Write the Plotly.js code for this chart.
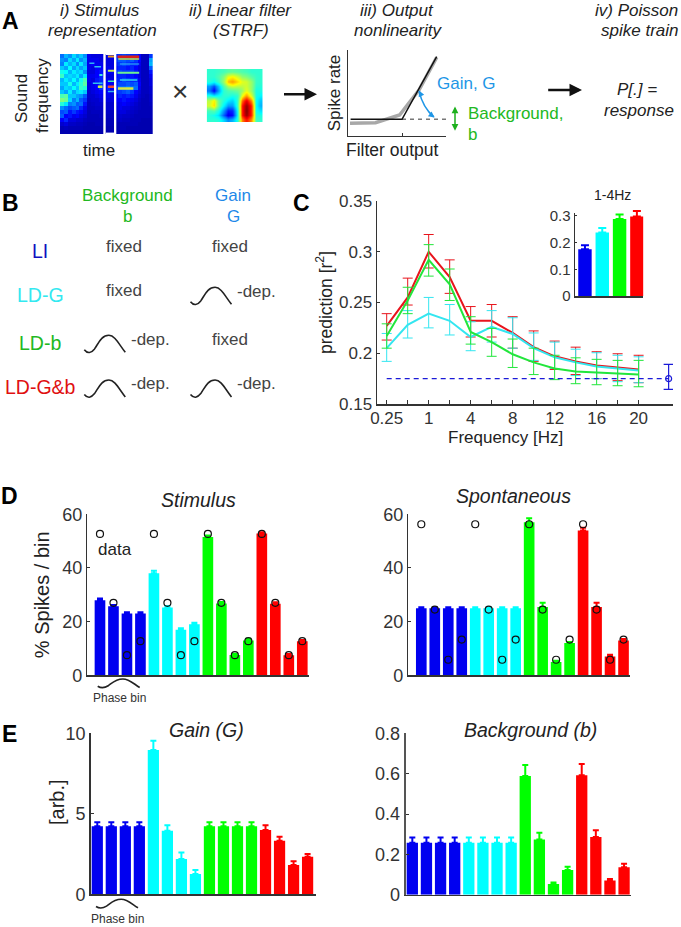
<!DOCTYPE html>
<html><head><meta charset="utf-8">
<script src="https://cdn.plot.ly/plotly-3.0.1.min.js"></script>
<style>html,body{margin:0;padding:0;background:#fff}#c{width:681px;height:927px}</style></head>
<body><div id="c"></div>
<script>
// ---------- data ----------
const modelColors = ['#0000f0','#00ffff','#00ff00','#ff0000'];
const freqTickLabels = ['0.25','1','4','8','12','16','20'];
const freqLabelPos = [0,2,4,6,8,10,12];
const freqMinorPos = [1,3,5,7,9,11];
const freqPos = [0,1,2,3,4,5,6,7,8,9,10,11,12];
const redLine  = [.227,.255,.300,.275,.232,.232,.220,.206,.197,.192,.188,.186,.184];
const redTop   = [.239,.274,.317,.292,.246,.248,.236,.222,.212,.206,.2015,.1995,.198];
const redBot   = [.213,.2475,.284,.259,.216,.216,.205,.192,.184,.179,.175,.173,.171];
const greenLine= [.217,.252,.292,.268,.221,.211,.199,.191,.185,.182,.181,.180,.179];
const greenTop = [.229,.265,.307,.283,.236,.2245,.214,.205,.198,.1955,.194,.193,.193];
const greenBot = [.205,.239,.276,.252,.209,.197,.186,.179,.174,.170,.169,.168,.167];
const cyanLine = [.205,.228,.239,.232,.216,.226,.219,.205,.196,.191,.187,.185,.183];
const cyanTop  = [.2195,.242,.255,.248,.231,.242,.235,.220,.211,.204,.2005,.198,.1965];
const cyanBot  = [.192,.215,.225,.218,.2025,.211,.205,.193,.185,.178,.175,.172,.171];
const liPos = 13.43, liValue = .175, liTop = .189, liBot = .1645;
const insetValues = [.175,.238,.288,.298];
const insetTops   = [.190,.255,.305,.318];

const stimulusBars = [28,25.7,23,23, 38,25.3,17,19, 51.5,26.8,7.6,13, 52.8,26.7,7.5,12.7];
const stimulusErr  = [.6,.5,.5,.5, 1,.5,.5,.6, .6,.5,.4,.6, .5,.5,.4,.5];
const stimulusData = [52.7,27,7.5,12.7, 52.7,27,7.5,12.7, 52.7,27,7.5,12.7, 52.7,27,7.5,12.7];
const spontBars = [25,25,25,25, 25,25,25,25, 57,25.5,5,12, 54,25.5,7,13];
const spontErr  = [.4,.4,.4,.4, .4,.4,.4,.4, 1.5,1.5,.4,.4, 1,1.5,.7,.5];
const spontData = [56.3,24.5,5.8,13.3, 56.3,24.5,5.8,13.3, 56.3,24.5,5.8,13.3, 56.3,24.5,5.8,13.3];
const gainBars = [4.22,4.22,4.22,4.22, 8.96,3.95,2.2,1.26, 4.22,4.22,4.22,4.22, 4.0,3.33,1.82,2.34];
const gainErr  = [.25,.25,.25,.25, .58,.34,.39,.25, .25,.25,.25,.25, .29,.25,.23,.16];
const bgBars = [.257,.257,.257,.257, .257,.257,.257,.257, .588,.274,.053,.122, .592,.286,.071,.136];
const bgErr  = [.027,.027,.027,.027, .027,.027,.027,.027, .055,.033,.008,.017, .056,.033,.007,.018];

const nlBlackX = [-51.4,0,34.7], nlBlackY = [16.7,16.7,79.3];
const nlGreyX = [-52,-26.5,-2.4,17,34.7], nlGreyY = [12.7,13.3,21,46,78.7];
const nlDashX = [0,48], nlDashY = [16.7,16.7];

const spectrogram = [
[.26,.34,.30,.38,.32,.36,.30,.12,.10,.10,.10,.08,.12,.12,.18,.20,.22,.20,.18,.18,.14,.06,.06,.20],
[.30,.28,.38,.32,.40,.30,.34,.12,.12,.12,.10,.10,.10,.10,.20,.24,.24,.22,.24,.20,.14,.06,.06,.32],
[.28,.40,.34,.38,.30,.40,.32,.12,.14,.12,.12,.10,.10,.10,.18,.20,.22,.20,.18,.18,.12,.06,.06,.34],
[.36,.32,.42,.32,.38,.32,.36,.12,.10,.14,.14,.10,.12,.10,.16,.18,.18,.16,.18,.14,.10,.06,.06,.24],
[.44,.42,.34,.40,.36,.38,.30,.10,.10,.14,.16,.10,.14,.12,.20,.22,.20,.20,.20,.16,.10,.06,.06,.16],
[.48,.36,.38,.36,.40,.32,.40,.12,.12,.14,.18,.10,.10,.10,.16,.18,.18,.16,.16,.14,.10,.06,.06,.12],
[.34,.40,.36,.42,.34,.44,.50,.12,.10,.16,.18,.12,.12,.10,.18,.18,.22,.20,.18,.18,.12,.06,.06,.10],
[.36,.36,.44,.34,.40,.46,.52,.10,.12,.14,.20,.12,.14,.12,.18,.22,.22,.24,.22,.24,.14,.06,.06,.10],
[.32,.38,.36,.42,.36,.48,.46,.10,.12,.14,.20,.12,.18,.12,.20,.26,.26,.28,.26,.26,.12,.06,.06,.08],
[.36,.32,.40,.32,.38,.40,.36,.08,.10,.12,.14,.10,.14,.10,.18,.20,.22,.24,.20,.14,.10,.06,.06,.08],
[.50,.52,.36,.36,.32,.30,.24,.08,.08,.10,.12,.10,.12,.10,.14,.18,.16,.18,.16,.12,.08,.06,.05,.07],
[.56,.54,.38,.28,.34,.24,.20,.07,.08,.08,.10,.10,.10,.10,.14,.14,.16,.14,.12,.10,.07,.05,.05,.07],
[.46,.40,.28,.30,.24,.26,.16,.06,.07,.08,.08,.08,.08,.08,.12,.12,.14,.12,.10,.08,.06,.05,.05,.06],
[.30,.26,.22,.24,.26,.18,.12,.06,.06,.07,.07,.08,.08,.08,.10,.12,.10,.10,.08,.07,.06,.05,.05,.05],
[.22,.24,.16,.20,.16,.14,.10,.05,.06,.06,.06,.07,.07,.06,.08,.10,.10,.08,.07,.06,.05,.05,.05,.05],
[.24,.14,.16,.12,.14,.10,.08,.05,.05,.05,.06,.06,.06,.06,.07,.08,.07,.07,.06,.05,.05,.05,.05,.05],
[.14,.18,.10,.10,.08,.08,.06,.05,.05,.05,.05,.05,.05,.05,.06,.07,.06,.06,.05,.05,.05,.04,.04,.04],
[.08,.10,.07,.07,.06,.06,.05,.04,.04,.05,.05,.05,.05,.05,.05,.05,.05,.05,.05,.05,.04,.04,.04,.04],
[.05,.06,.05,.05,.05,.05,.04,.04,.04,.04,.04,.04,.04,.04,.04,.05,.05,.04,.04,.04,.04,.04,.04,.04],
[.04,.04,.04,.04,.04,.04,.04,.04,.04,.04,.04,.04,.04,.04,.04,.04,.04,.04,.04,.04,.04,.04,.04,.04]];
// bright harmonics on the spectrogram: column span, row, colour, width
const harmonicCols = [[14.4,20],[14.6,20],[15,20],[14.4,20],[15,19.5],[14.5,18.5],[11.9,13.7],[11.9,13.7],[11.9,13.7],[11.9,13.7],[11.9,13.7],[7.1,8.4],[8.4,10.1],[9.7,10.5],[8,10.5],[9.3,10.5]];
const harmonicRows = [.17,.75,2,4.2,6,8.1,0.1,3.7,6.3,7.7,8.9,1.8,2.7,4.75,6.8,7.7];
const harmonicColors = ['#d8201a','#c8e040','#30c0f0','#70f090','#30d0f0','#d8e840','#f0a020','#c8f050','#40f0b0','#f05030','#30b0f0','#30b0f0','#30c0f0','#40e0e0','#30c0f0','#d0f040'];
const harmonicWidths = [2.5,1.5,1,2,1.5,2.5,2,2,1.5,2.5,1.5,1.5,1.5,2,1.5,2.5];
const strf = [
[.42,.42,.43,.44,.46,.47,.46,.45,.44,.42,.42,.42],
[.42,.42,.45,.50,.60,.63,.58,.52,.50,.46,.43,.42],
[.41,.38,.43,.52,.68,.72,.66,.60,.58,.52,.43,.42],
[.28,.20,.32,.45,.54,.58,.56,.56,.58,.52,.42,.41],
[.24,.12,.28,.42,.45,.46,.48,.52,.60,.52,.40,.40],
[.40,.36,.38,.42,.42,.40,.42,.60,.72,.58,.40,.37],
[.56,.64,.48,.41,.36,.33,.42,.76,.90,.74,.39,.32],
[.58,.66,.48,.37,.28,.28,.42,.84,.98,.84,.39,.30],
[.44,.46,.40,.28,.15,.16,.38,.84,1.0,.84,.40,.35],
[.41,.39,.35,.22,.10,.13,.37,.84,.98,.84,.42,.40],
[.42,.42,.41,.34,.26,.30,.40,.74,.86,.74,.44,.42]];
const jet = [[0,'rgb(0,0,143)'],[.125,'rgb(0,0,255)'],[.375,'rgb(0,255,255)'],[.625,'rgb(255,255,0)'],[.875,'rgb(255,0,0)'],[1,'rgb(128,0,0)']];

// ---------- helpers ----------
const W=681,H=927, FONT='"Liberation Sans", Arial, sans-serif';
const fx=p=>p/W, fy=p=>1-p/H;
const layout={width:W,height:H,margin:{l:0,r:0,t:0,b:0},paper_bgcolor:'#fff',plot_bgcolor:'rgba(0,0,0,0)',
  showlegend:false,barmode:'overlay',font:{family:FONT,color:'#333'},annotations:[],shapes:[]};
const traces=[];
let nAxes=0;
function axes(l,r,t,b,xo,yo){
  nAxes++; const s=nAxes===1?'':nAxes;
  const base={showgrid:false,zeroline:false,showline:true,linecolor:'#333',linewidth:1.5,ticks:'',showticklabels:false,fixedrange:true};
  layout['xaxis'+s]=Object.assign({},base,{domain:[l/W,r/W],anchor:'y'+s},xo);
  layout['yaxis'+s]=Object.assign({},base,{domain:[1-b/H,1-t/H],anchor:'x'+s},yo);
  return {xaxis:'x'+s,yaxis:'y'+s};
}
function T(x,y,text,o={}){
  layout.annotations.push({xref:'paper',yref:'paper',x:fx(x),y:fy(y),text,showarrow:false,
    xanchor:o.anchor||'center',yanchor:'middle',textangle:o.rot||0,
    font:{family:FONT,size:o.size||17,color:o.color||'#222'}});
}
function arrow(x0,y0,x1,y1,color,width,side,size){
  layout.annotations.push({xref:'paper',yref:'paper',axref:'pixel',ayref:'pixel',x:fx(x1),y:fy(y1),ax:x0-x1,ay:y0-y1,
    text:'',showarrow:true,arrowhead:2,arrowside:side||'end',arrowsize:size||1,arrowwidth:width,arrowcolor:color});
}
function bump(x0,top,w,h,c){
  const X=u=>fx(x0+u*w), Y=v=>fy(top+v*h);
  const p=`M${X(0)},${Y(.85)} C${X(.08)},${Y(1.1)} ${X(.17)},${Y(1.05)} ${X(.25)},${Y(.8)} C${X(.35)},${Y(.45)} ${X(.42)},${Y(0)} ${X(.6)},${Y(0)} C${X(.75)},${Y(0)} ${X(.85)},${Y(.55)} ${X(1)},${Y(1)}`;
  layout.shapes.push({type:'path',xref:'paper',yref:'paper',path:p,line:{color:c||'#222',width:1.6}});
}
function rect(x0,y0,x1,y1){layout.shapes.push({type:'rect',xref:'paper',yref:'paper',x0:fx(x0),x1:fx(x1),y0:fy(y0),y1:fy(y1),fillcolor:'#fff',line:{width:0},layer:'above'});}

// ---------- panel A ----------
let a=axes(60,152.7,54,134,{visible:false,range:[-.5,23.5]},{visible:false,range:[19.5,-.5]});
traces.push(Object.assign({type:'heatmap',z:spectrogram,colorscale:jet,zmin:0,zmax:1.12,showscale:false,zsmooth:false},a));
harmonicRows.forEach((r,i)=>traces.push(Object.assign({type:'scatter',mode:'lines',x:harmonicCols[i],y:[r,r],line:{color:harmonicColors[i],width:harmonicWidths[i]}},a)));
rect(103.3,54,105.7,134); rect(114,54,116.3,134); rect(105.7,54,114,55); rect(105.7,132.6,114,134);
a=axes(206.7,262.7,69,122.3,{visible:false,range:[-.5,11.5]},{visible:false,range:[10.5,-.5]});
traces.push(Object.assign({type:'heatmap',z:strf,colorscale:jet,zmin:0,zmax:1,showscale:false,zsmooth:'best'},a));
a=axes(348,446,50,136,{range:[-54,44],tickvals:[0],ticks:'inside',ticklen:3,tickcolor:'#333',linewidth:1.2},
   {range:[0,86],linewidth:1.2,title:{text:'Spike rate',font:{size:17,color:'#222'},standoff:1}});
traces.push(Object.assign({type:'scatter',mode:'lines',x:nlGreyX,y:nlGreyY,line:{color:'#a8a8a8',width:3.5}},a));
traces.push(Object.assign({type:'scatter',mode:'lines',x:nlDashX,y:nlDashY,line:{color:'#777',width:1.5,dash:'4px,4px'},cliponaxis:false},a));
traces.push(Object.assign({type:'scatter',mode:'lines',x:nlBlackX,y:nlBlackY,line:{color:'#111',width:1.5}},a));
T(392,150,'Filter output',{size:17.5});

T(10,21,'<b>A</b>',{size:23,color:'#000'});
T(100,10,'<i>i) Stimulus</i>',{size:17}); T(102.6,30.7,'<i>representation</i>',{size:17});
T(241,10,'<i>ii) Linear filter</i>',{size:17}); T(241,30.7,'<i>(STRF)</i>',{size:17});
T(396.5,10,'<i>iii) Output</i>',{size:17}); T(398,30.7,'<i>nonlinearity</i>',{size:17});
T(636,10,'<i>iv) Poisson</i>',{size:17}); T(639,30.7,'<i>spike train</i>',{size:17});
T(22,99,'Sound',{rot:-90,size:17}); T(43,96,'frequency',{rot:-90,size:17});
T(99,150.7,'time',{size:17});
T(179.5,91.5,'×',{size:28,color:'#333'});
T(434.5,83.3,'Gain, G',{anchor:'left',color:'#1e96e6',size:17});
T(466.4,114,'Background,',{anchor:'left',color:'#22b822',size:17});
T(466.4,135,'b',{anchor:'left',color:'#22b822',size:17});
T(636.7,89,'<i>P[.] =</i>',{size:17}); T(639,110,'<i>response</i>',{size:17});
arrow(282.5,94.3,317,94.3,'#111',2.5); arrow(546.7,90,582,90,'#111',2.5);
arrow(455,105,455,130.7,'#1db01d',1.5,'end+start',.9);
layout.shapes.push({type:'path',xref:'paper',yref:'paper',path:`M${fx(419)},${fy(91)} Q${fx(423)},${fy(108)} ${fx(434)},${fy(117)}`,line:{color:'#1e96e6',width:1.5}});
arrow(421,95,419,90.5,'#1e96e6',1.5,'end',.8); arrow(430,114,434.5,117.5,'#1e96e6',1.5,'end',.8);

// ---------- panel B ----------
T(10,203,'<b>B</b>',{size:23,color:'#000'});
const greenT='#22b822', blueT='#1e88e8';
T(127.7,196,'Background',{color:greenT,size:17}); T(127.7,216.7,'b',{color:greenT,size:17});
T(233,196,'Gain',{color:blueT,size:17}); T(233,216.7,'G',{color:blueT,size:17});
T(40.3,250.7,'LI',{color:'#1010c0',size:19.5});
T(40.3,295,'LD-G',{color:'#33e8f0',size:19.5});
T(40.3,343.3,'LD-b',{color:greenT,size:19.5});
T(40,387,'LD-G&amp;b',{color:'#e01010',size:19.5});
const gy='#444';
T(124,246.7,'fixed',{color:gy}); T(230,246.7,'fixed',{color:gy});
T(124,291,'fixed',{color:gy}); bump(190.5,287.3,41,17); T(235,291.7,'-dep.',{anchor:'left',color:gy});
bump(84.3,335.3,41,17); T(128.7,339.3,'-dep.',{anchor:'left',color:gy}); T(230,339.3,'fixed',{color:gy});
bump(84.3,380,41,17); T(128.7,384,'-dep.',{anchor:'left',color:gy});
bump(190.5,380,41,17); T(235,384,'-dep.',{anchor:'left',color:gy});

// ---------- panel C ----------
T(301.7,203,'<b>C</b>',{size:23,color:'#000'});
a=axes(377,673,201,404,{range:[-.462,13.638],tickmode:'array',tickvals:freqLabelPos,ticktext:freqTickLabels,ticks:'inside',ticklen:4,tickcolor:'#333',showticklabels:true,tickfont:{size:17,color:'#333'},ticklabelstandoff:-2,
     minor:{tickmode:'array',tickvals:freqMinorPos,ticks:'inside',ticklen:4,tickcolor:'#333',showgrid:false}},
   {range:[.15,.35],tickvals:[.15,.2,.25,.3,.35],ticktext:['0.15','0.2','0.25','0.3','0.35'],ticks:'inside',ticklen:3,tickcolor:'#333',showticklabels:true,tickfont:{size:17,color:'#333'},
    title:{text:'prediction [r<sup>2</sup>]',font:{size:17.5,color:'#222'},standoff:2}});
function tuning(val,top,bot,col){
  traces.push(Object.assign({type:'scatter',mode:'lines',x:freqPos,y:val,line:{color:col,width:2},cliponaxis:false,
    error_y:{type:'data',symmetric:false,array:top.map((v,i)=>v-val[i]),arrayminus:bot.map((v,i)=>val[i]-v),color:col,thickness:1,width:5}},a));
}
tuning(redLine,redTop,redBot,'#e8141c');
tuning(cyanLine,cyanTop,cyanBot,'#33e6f0');
tuning(greenLine,greenTop,greenBot,'#22e63c');
traces.push(Object.assign({type:'scatter',mode:'lines',x:[0,liPos],y:[liValue,liValue],line:{color:'#1a1ad8',width:1.3,dash:'5px,4px'},cliponaxis:false},a));
traces.push(Object.assign({type:'scatter',mode:'markers',x:[liPos],y:[liValue],marker:{symbol:'circle-open',size:6,color:'#1a1ad8',line:{width:1.2,color:'#1a1ad8'}},cliponaxis:false,
   error_y:{type:'data',symmetric:false,array:[liTop-liValue],arrayminus:[liValue-liBot],color:'#1a1ad8',thickness:1.2,width:5}},a));
T(505,437,'Frequency [Hz]',{size:17});

// inset: axis frame stops just above 0.3, bars live on a taller twin axis so the error caps are not cut
const insetFrame=axes(575,643.3,213.2,296,{range:[-.575,3.37]},
   {range:[0,.31],tickvals:[0,.1,.2,.3],ticktext:['0','0.1','0.2','0.3'],ticks:'inside',ticklen:2,tickcolor:'#333',showticklabels:true,tickfont:{size:15,color:'#333'}});
traces.push(Object.assign({type:'scatter',mode:'markers',x:[0],y:[0],marker:{size:1,opacity:0},hoverinfo:'skip'},insetFrame));
a=axes(575,643.3,202.8,296,{range:[-.575,3.37],showline:false},{range:[0,.349],showline:false});
insetValues.forEach((v,i)=>traces.push(Object.assign({type:'bar',x:[i],y:[v],width:.776,marker:{color:modelColors[i],line:{width:0}},cliponaxis:false,
   error_y:{type:'data',symmetric:false,array:[insetTops[i]-v],arrayminus:[0],color:modelColors[i],thickness:2,width:4}},a)));
T(612,195,'1-4Hz',{size:14,color:'#222'});

// ---------- panels D, E ----------
function bars(axs,vals,errs,w){
  modelColors.forEach((c,g)=>{
    const idx=[g*4,g*4+1,g*4+2,g*4+3];
    traces.push(Object.assign({type:'bar',x:idx,y:idx.map(i=>vals[i]),width:w,marker:{color:c,line:{width:0}},cliponaxis:false,
      error_y:{type:'data',symmetric:false,array:idx.map(i=>errs[i]),arrayminus:[0,0,0,0],color:c,thickness:2,width:3}},axs));
  });
}
function circles(axs,vals){
  traces.push(Object.assign({type:'scatter',mode:'markers',x:vals.map((v,i)=>i),y:vals,cliponaxis:false,
    marker:{symbol:'circle-open',size:7,color:'#111',line:{width:1.2,color:'#111'}}},axs));
}
const yt=(o)=>Object.assign({ticks:'inside',ticklen:3,tickcolor:'#333',showticklabels:true,tickfont:{size:18,color:'#333'}},o);

T(9,495.7,'<b>D</b>',{size:23,color:'#000'});
a=axes(87.3,309.3,514.3,675.3,{range:[-.94,15.52]},yt({range:[0,60],tickvals:[0,20,40,60],title:{text:'% Spikes / bin',font:{size:20,color:'#222'},standoff:7}}));
bars(a,stimulusBars,stimulusErr,.79); circles(a,stimulusData);
T(198,500,'<i>Stimulus</i>',{size:19.5}); T(115,549,'data',{size:17});
bump(97.7,679,42,8.5); T(119,698,'Phase bin',{size:12,color:'#333'});

a=axes(408.3,630,514.3,675.3,{range:[-.964,15.48]},yt({range:[0,60],tickvals:[0,20,40,60]}));
bars(a,spontBars,spontErr,.79); circles(a,spontData);
T(513,495.7,'<i>Spontaneous</i>',{size:19.5});

T(9,734,'<b>E</b>',{size:23,color:'#000'});
a=axes(90.7,316,733.3,894.3,{range:[-.47,15.6]},yt({range:[0,10],tickvals:[0,5,10]}));
bars(a,gainBars,gainErr,.8);
T(57,802,'[arb.]',{rot:-90,size:20});
T(206,730,'<i>Gain (G)</i>',{size:19.5});
bump(96,899.3,42,8.5); T(117.7,919,'Phase bin',{size:12,color:'#333'});

a=axes(405.7,630.7,733.3,894.7,{range:[-.47,15.47]},yt({range:[0,.8],tickvals:[0,.2,.4,.6,.8],ticktext:['0','0.2','0.4','0.6','0.8'],linecolor:'#555',linewidth:2}));
bars(a,bgBars,bgErr,.8);
T(530,730,'<i>Background (b)</i>',{size:19.5});

Plotly.newPlot('c',traces,layout,{staticPlot:true,displayModeBar:false});
</script></body></html>
